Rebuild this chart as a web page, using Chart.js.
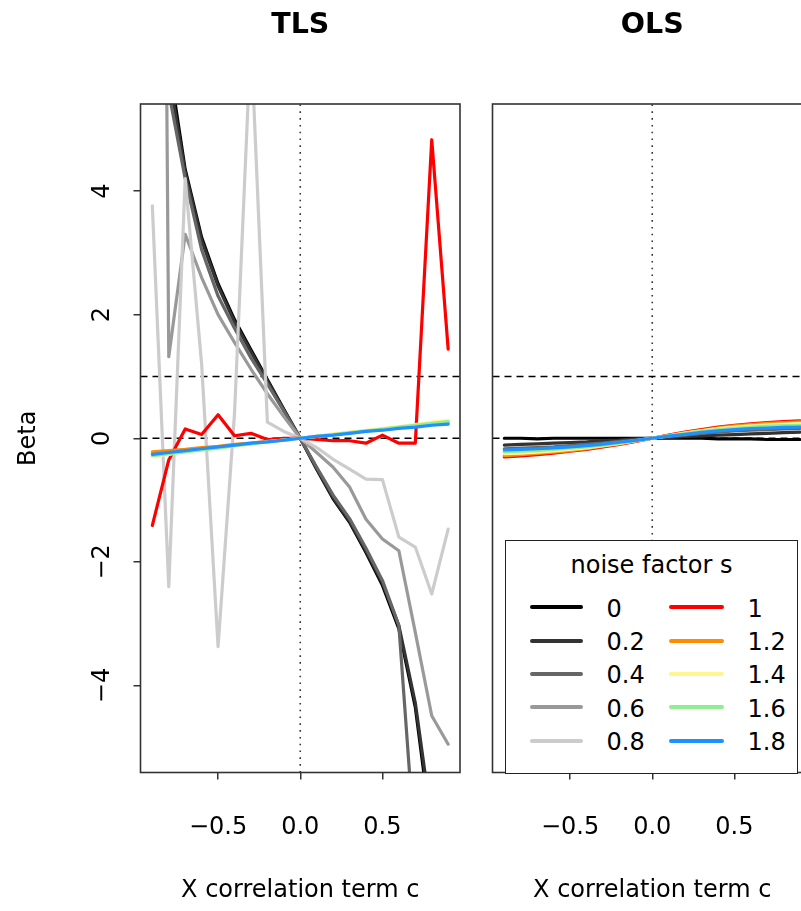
<!DOCTYPE html>
<html>
<head>
<meta charset="utf-8">
<script src="https://cdn.jsdelivr.net/npm/chart.js@4.4.1/dist/chart.umd.min.js"></script>
<style>
  html, body { margin: 0; padding: 0; background: #ffffff; }
  body { width: 801px; height: 911px; overflow: hidden; position: relative; font-family: "DejaVu Sans", sans-serif; }
  #c1 { position: absolute; left: 0; top: 0; }
  #c2 { position: absolute; left: 470px; top: 0; }
  #legend { position: absolute; left: 505px; top: 540px; width: 293px; height: 234px; box-sizing: border-box;
            border: 1.5px solid #222; background: #fff; }
  #legend .ttl { position: absolute; left: 0; top: 10px; width: 100%; text-align: center; font-size: 24px; line-height: 28px; color: #000; }
  #legend .sw { position: absolute; height: 4px; border-radius: 2px; }
  #legend .lb { position: absolute; font-size: 24px; line-height: 28px; color: #000; }
</style>
</head>
<body>
<canvas id="c1" width="470" height="911"></canvas>
<canvas id="c2" width="352" height="911"></canvas>
<div id="legend"></div>
<script>
// ---------- data ----------
const corrC = [-0.9, -0.8, -0.7, -0.6, -0.5, -0.4, -0.3, -0.2, -0.1, 0, 0.1, 0.2, 0.3, 0.4, 0.5, 0.6, 0.7, 0.8, 0.9];
const noiseLabels = ['0', '0.2', '0.4', '0.6', '0.8', '1', '1.2', '1.4', '1.6', '1.8'];
const noiseColors = ['#000000', '#333333', '#666666', '#999999', '#cccccc', '#ff0000', '#ff8c00', '#fff68f', '#90ee90', '#1e90ff'];

// TLS estimates, one array per noise factor
const tls_s00 = [10.2, 6.1, 4.35, 3.25, 2.5, 1.92, 1.43, 0.95, 0.47, 0, -0.5, -0.98, -1.36, -1.85, -2.38, -3.08, -4.35, -6.4, -10.2];
const tls_s02 = [9.4, 5.9, 4.3, 3.2, 2.46, 1.88, 1.4, 0.93, 0.46, 0, -0.49, -0.96, -1.34, -1.82, -2.34, -3.03, -4.28, -6.2, -9.6];
const tls_s04 = [14, 5.6, 4.2, 3.05, 2.3, 1.78, 1.3, 0.88, 0.44, 0, -0.47, -0.92, -1.3, -1.78, -2.3, -3.03, -6.7, -8.5, -9.5];
const tls_s06 = [36, 1.32, 3.3, 2.6, 2.0, 1.55, 1.12, 0.72, 0.35, 0, -0.23, -0.47, -0.79, -1.31, -1.63, -1.82, -3.14, -4.49, -4.95];
const tls_s08 = [3.76, -2.4, 4.2, 1.2, -3.37, 0.4, 6.5, 0.26, 0.11, 0, -0.15, -0.34, -0.5, -0.66, -0.67, -1.6, -1.76, -2.52, -1.47];
const tls_s10 = [-1.41, -0.35, 0.15, 0.06, 0.38, 0.04, 0.08, -0.02, 0.0, 0, -0.02, -0.04, -0.04, -0.08, 0.05, -0.08, -0.08, 4.83, 1.44];
const tls_s12 = [-0.22, -0.2, -0.18, -0.15, -0.13, -0.1, -0.08, -0.05, -0.03, 0, 0.03, 0.06, 0.09, 0.12, 0.14, 0.17, 0.2, 0.23, 0.26];
const tls_s14 = [-0.29, -0.26, -0.22, -0.19, -0.16, -0.13, -0.1, -0.06, -0.03, 0, 0.03, 0.07, 0.1, 0.13, 0.16, 0.19, 0.22, 0.26, 0.29];
const tls_s16 = [-0.28, -0.25, -0.22, -0.19, -0.16, -0.12, -0.09, -0.06, -0.03, 0, 0.03, 0.06, 0.09, 0.12, 0.15, 0.18, 0.21, 0.24, 0.27];
const tls_s18 = [-0.26, -0.23, -0.2, -0.17, -0.14, -0.11, -0.08, -0.06, -0.03, 0, 0.03, 0.05, 0.08, 0.11, 0.13, 0.16, 0.18, 0.21, 0.23];

// OLS estimates, one array per noise factor
const ols_s00 = [0.0, 0.0, -0.01, 0.0, 0.0, 0.0, 0.0, 0.0, 0.0, 0, 0.0, 0.0, 0.0, -0.01, -0.01, -0.01, -0.02, -0.02, -0.02];
const ols_s02 = [-0.11, -0.1, -0.09, -0.08, -0.07, -0.06, -0.04, -0.03, -0.01, 0, 0.01, 0.03, 0.04, 0.05, 0.06, 0.07, 0.08, 0.09, 0.1];
const ols_s04 = [-0.17, -0.16, -0.15, -0.14, -0.12, -0.1, -0.08, -0.05, -0.03, 0, 0.03, 0.05, 0.08, 0.1, 0.12, 0.13, 0.14, 0.15, 0.16];
const ols_s06 = [-0.22, -0.21, -0.2, -0.18, -0.16, -0.13, -0.1, -0.07, -0.04, 0, 0.04, 0.07, 0.1, 0.13, 0.16, 0.18, 0.19, 0.2, 0.21];
const ols_s08 = [-0.26, -0.25, -0.23, -0.21, -0.19, -0.16, -0.12, -0.08, -0.04, 0, 0.04, 0.08, 0.12, 0.16, 0.19, 0.21, 0.23, 0.25, 0.26];
const ols_s10 = [-0.3, -0.285, -0.265, -0.24, -0.21, -0.18, -0.14, -0.1, -0.05, 0, 0.05, 0.1, 0.14, 0.18, 0.21, 0.235, 0.255, 0.27, 0.28];
const ols_s12 = [-0.28, -0.265, -0.245, -0.225, -0.2, -0.17, -0.13, -0.09, -0.045, 0, 0.045, 0.09, 0.13, 0.17, 0.2, 0.22, 0.24, 0.255, 0.265];
const ols_s14 = [-0.25, -0.24, -0.225, -0.205, -0.18, -0.155, -0.12, -0.085, -0.04, 0, 0.04, 0.085, 0.12, 0.155, 0.18, 0.2, 0.215, 0.23, 0.24];
const ols_s16 = [-0.22, -0.21, -0.2, -0.18, -0.16, -0.14, -0.11, -0.075, -0.04, 0, 0.04, 0.075, 0.11, 0.14, 0.16, 0.18, 0.195, 0.205, 0.21];
const ols_s18 = [-0.19, -0.18, -0.17, -0.155, -0.14, -0.12, -0.095, -0.065, -0.035, 0, 0.035, 0.065, 0.095, 0.12, 0.14, 0.155, 0.165, 0.175, 0.18];

// reference lines and axes
const xLimits = [-0.972, 0.972];
const yLimits = [-5.408, 5.408];
const hRefLines = [0, 1];
const vRefLines = [0];
const xTickValues = [-0.5, 0, 0.5];
const yTickValues = [-4, -2, 0, 2, 4];
const panelTitles = ['TLS', 'OLS'];
const xAxisTitle = 'X correlation term c';
const yAxisTitle = 'Beta';
const legendTitle = 'noise factor s';

const tlsSeries = [tls_s00, tls_s02, tls_s04, tls_s06, tls_s08, tls_s10, tls_s12, tls_s14, tls_s16, tls_s18];
const olsSeries = [ols_s00, ols_s02, ols_s04, ols_s06, ols_s08, ols_s10, ols_s12, ols_s14, ols_s16, ols_s18];

// ---------- chart ----------
Chart.defaults.font.family = '"DejaVu Sans", sans-serif';
Chart.defaults.color = '#000';

const fmt = v => (v < 0 ? '\u2212' : '') + Math.abs(v);
const fmtX = v => (v < 0 ? '\u2212' : '') + Math.abs(v).toFixed(1);

function buildDatasets(series) {
  const ds = [];
  hRefLines.forEach(h => ds.push({
    data: [{x: xLimits[0], y: h}, {x: xLimits[1], y: h}],
    borderColor: '#000', borderWidth: 1.4, borderDash: [7, 5], pointRadius: 0, order: 50, clip: 0
  }));
  vRefLines.forEach(v => ds.push({
    data: [{x: v, y: yLimits[0]}, {x: v, y: yLimits[1]}],
    borderColor: '#333', borderWidth: 1.6, borderDash: [1.6, 5.2], pointRadius: 0, order: 50, clip: 0
  }));
  series.forEach((vals, i) => ds.push({
    label: noiseLabels[i],
    data: corrC.map((c, k) => ({x: c, y: vals[k]})),
    borderColor: noiseColors[i], borderWidth: 3.2, pointRadius: 0, tension: 0,
    borderJoinStyle: 'round', borderCapStyle: 'round',
    order: 20 - i, clip: 0
  }));
  return ds;
}

const framePlugin = {
  id: 'frame',
  afterDraw(chart) {
    const a = chart.chartArea, ctx = chart.ctx;
    ctx.save();
    ctx.strokeStyle = '#333';
    ctx.lineWidth = 1.6;
    ctx.strokeRect(a.left, a.top, a.right - a.left, a.bottom - a.top);
    ctx.restore();
  }
};

function makeChart(id, series, title, showY, padLeft) {
  return new Chart(document.getElementById(id), {
    type: 'line',
    data: { datasets: buildDatasets(series) },
    plugins: [framePlugin],
    options: {
      responsive: false, animation: false, devicePixelRatio: 1,
      layout: { padding: { left: padLeft, right: 10, top: 0, bottom: 0 } },
      plugins: {
        legend: { display: false }, tooltip: { enabled: false },
        title: { display: true, text: title, fullSize: false, color: '#000',
                 font: { size: 28.5, weight: 'bold' }, padding: { top: 8, bottom: 61.8 } }
      },
      scales: {
        x: {
          type: 'linear', min: xLimits[0], max: xLimits[1],
          afterBuildTicks: s => { s.ticks = xTickValues.map(v => ({value: v})); },
          afterFit: s => { s.height = 138.5; },
          grid: { display: true, drawOnChartArea: false, drawTicks: true, tickLength: 7, color: '#333', lineWidth: 1.5 },
          border: { display: false },
          ticks: { callback: v => fmtX(v), font: { size: 24 }, color: '#000', padding: 34, maxRotation: 0, autoSkip: false },
          title: { display: true, text: xAxisTitle, font: { size: 24 }, color: '#000', padding: { top: 0, bottom: 5.8 } }
        },
        y: {
          type: 'linear', min: yLimits[0], max: yLimits[1], display: showY,
          afterBuildTicks: s => { s.ticks = yTickValues.map(v => ({value: v})); },
          afterFit: s => { s.width = showY ? 140.5 : 0; },
          grid: { display: true, drawOnChartArea: false, drawTicks: true, tickLength: 7, color: '#333', lineWidth: 1.5 },
          border: { display: false },
          ticks: { callback: v => fmt(v), font: { size: 24 }, color: '#000', padding: 12.8,
                   minRotation: 90, maxRotation: 90, crossAlign: 'center', autoSkip: false },
          title: { display: true, text: yAxisTitle, font: { size: 24 }, color: '#000', padding: { top: 14.6, bottom: 0 } }
        }
      }
    }
  });
}

makeChart('c1', tlsSeries, panelTitles[0], true, 0);
makeChart('c2', olsSeries, panelTitles[1], false, 22.5);

// ---------- legend (HTML, built from the named arrays) ----------
const lg = document.getElementById('legend');
const t = document.createElement('div');
t.className = 'ttl'; t.textContent = legendTitle; lg.appendChild(t);
const rowCenters = [66.2, 99.5, 132.8, 166.2, 199.5];
noiseLabels.forEach((lab, i) => {
  const col = Math.floor(i / 5), row = i % 5;
  const sw = document.createElement('div');
  sw.className = 'sw';
  sw.style.background = noiseColors[i];
  sw.style.left = (col === 0 ? 23.5 : 162.5) + 'px';
  sw.style.width = (col === 0 ? 53 : 55) + 'px';
  sw.style.top = (rowCenters[row] - 2) + 'px';
  lg.appendChild(sw);
  const lb = document.createElement('div');
  lb.className = 'lb';
  lb.textContent = lab;
  lb.style.left = (col === 0 ? 100.5 : 241.5) + 'px';
  lb.style.top = (rowCenters[row] + 1.5 - 14) + 'px';
  lg.appendChild(lb);
});
</script>
</body>
</html>
